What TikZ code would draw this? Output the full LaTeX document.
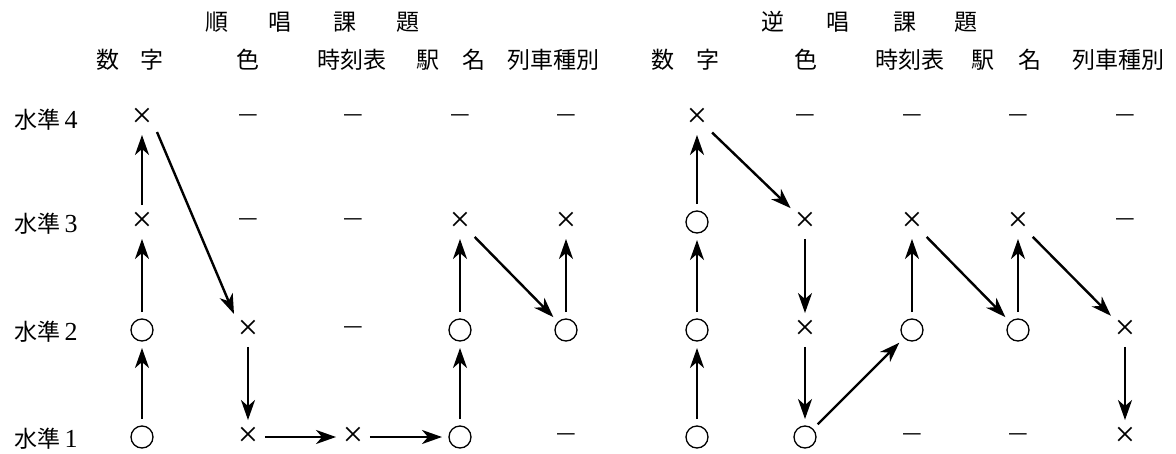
\documentclass[tikz,border=0pt]{standalone}
\usepackage{fontspec}
\newfontfamily\cjk{Noto Sans CJK JP}
\newfontfamily\numfont{Liberation Serif}
\usetikzlibrary{arrows.meta}
\begin{document}
\begin{tikzpicture}[x=1pt,y=-1pt,
 lab/.style={font=\cjk\fontsize{23}{23}\selectfont, inner sep=0},
 rowlab/.style={font=\numfont\fontsize{26}{26}\selectfont, inner sep=0},
 ok/.style={circle, inner sep=0, minimum size=22, outer sep=7, draw, line width=1.3},
 ng/.style={circle, inner sep=0, minimum size=16, outer sep=3, font=\numfont\fontsize{36}{36}\selectfont},
 na/.style={circle, inner sep=0, minimum size=16, outer sep=3, font=\cjk\fontsize{22}{22}\selectfont},
 arr/.style={-{Stealth[length=20,width=14,inset=6]}, line width=2.4}]
\useasboundingbox (0,0) rectangle (1176,453);
% headers
\node[lab] (h1) at (217,22) {順};
\node[lab] (h2) at (280,22) {唱};
\node[lab] (h3) at (345,22) {課};
\node[lab] (h4) at (408,22) {題};
\node[lab] (k1) at (773,22) {逆};
\node[lab] (k2) at (838,22) {唱};
\node[lab] (k3) at (905,22) {課};
\node[lab] (k4) at (966,22) {題};
\node[lab] (a1) at (108,60) {数};
\node[lab] (a2) at (152,60) {字};
\node[lab] (a3) at (248,60) {色};
\node[lab] (a4) at (352,60) {時刻表};
\node[lab] (a5) at (428,60) {駅};
\node[lab] (a6) at (474,60) {名};
\node[lab] (a7) at (553,60) {列車種別};
\node[lab] (b1) at (663,60) {数};
\node[lab] (b2) at (708,60) {字};
\node[lab] (b3) at (806,60) {色};
\node[lab] (b4) at (910,60) {時刻表};
\node[lab] (b5) at (983,60) {駅};
\node[lab] (b6) at (1030,60) {名};
\node[lab] (b7) at (1118,60) {列車種別};
% row labels
\node[rowlab] (r4) at (46,120) {{\cjk\fontsize{23}{23}\selectfont 水準}\,4};
\node[rowlab] (r3) at (46,224) {{\cjk\fontsize{23}{23}\selectfont 水準}\,3};
\node[rowlab] (r2) at (46,332) {{\cjk\fontsize{23}{23}\selectfont 水準}\,2};
\node[rowlab] (r1) at (46,439) {{\cjk\fontsize{23}{23}\selectfont 水準}\,1};
% left group: columns 142 248 353 460 566
\node[ng] (L14) at (142,118) {×};
\node[na] (L24) at (248,118) {—};
\node[na] (L34) at (353,118) {—};
\node[na] (L44) at (460,118) {—};
\node[na] (L54) at (566,118) {—};
\node[ng] (L13) at (142,222) {×};
\node[na] (L23) at (248,222) {—};
\node[na] (L33) at (353,222) {—};
\node[ng] (L43) at (460,222) {×};
\node[ng] (L53) at (566,222) {×};
\node[ok] (L12) at (142,330) {};
\node[ng] (L22) at (248,330) {×};
\node[na] (L32) at (353,330) {—};
\node[ok] (L42) at (460,330) {};
\node[ok] (L52) at (566,330) {};
\node[ok] (L11) at (142,437) {};
\node[ng] (L21) at (248,437) {×};
\node[ng] (L31) at (353,437) {×};
\node[ok] (L41) at (460,437) {};
\node[na] (L51) at (566,437) {—};
% right group: columns 697 805 912 1018 1125
\node[ng] (R14) at (697,118) {×};
\node[na] (R24) at (805,118) {—};
\node[na] (R34) at (912,118) {—};
\node[na] (R44) at (1018,118) {—};
\node[na] (R54) at (1125,118) {—};
\node[ok] (R13) at (697,222) {};
\node[ng] (R23) at (805,222) {×};
\node[ng] (R33) at (912,222) {×};
\node[ng] (R43) at (1018,222) {×};
\node[na] (R53) at (1125,222) {—};
\node[ok] (R12) at (697,330) {};
\node[ng] (R22) at (805,330) {×};
\node[ok] (R32) at (912,330) {};
\node[ok] (R42) at (1018,330) {};
\node[ng] (R52) at (1125,330) {×};
\node[ok] (R11) at (697,437) {};
\node[ok] (R21) at (805,437) {};
\node[na] (R31) at (912,437) {—};
\node[na] (R41) at (1018,437) {—};
\node[ng] (R51) at (1125,437) {×};
% arrows left
\draw[arr] (L11) -- (L12);
\draw[arr] (L12) -- (L13);
\draw[arr] (L13) -- (L14);
\draw[arr] ([shift={(15,14)}]L14.center) -- ([shift={(-14,-16)}]L22.center);
\draw[arr] (L22) -- (L21);
\draw[arr] (L21) -- (L31);
\draw[arr] (L31) -- (L41);
\draw[arr] (L41) -- (L42);
\draw[arr] (L42) -- (L43);
\draw[arr, shorten <=4] (L43) -- (L52);
\draw[arr] (L52) -- (L53);
% arrows right
\draw[arr] (R11) -- (R12);
\draw[arr] (R12) -- (R13);
\draw[arr] (R13) -- (R14);
\draw[arr, shorten <=4, shorten >=3] (R14) -- (R23);
\draw[arr] (R23) -- (R22);
\draw[arr] (R22) -- (R21);
\draw[arr] (R21) -- (R32);
\draw[arr] (R32) -- (R33);
\draw[arr, shorten <=4] (R33) -- (R42);
\draw[arr] (R42) -- (R43);
\draw[arr, shorten <=4, shorten >=3] (R43) -- (R52);
\draw[arr] (R52) -- (R51);
\end{tikzpicture}
\end{document}
